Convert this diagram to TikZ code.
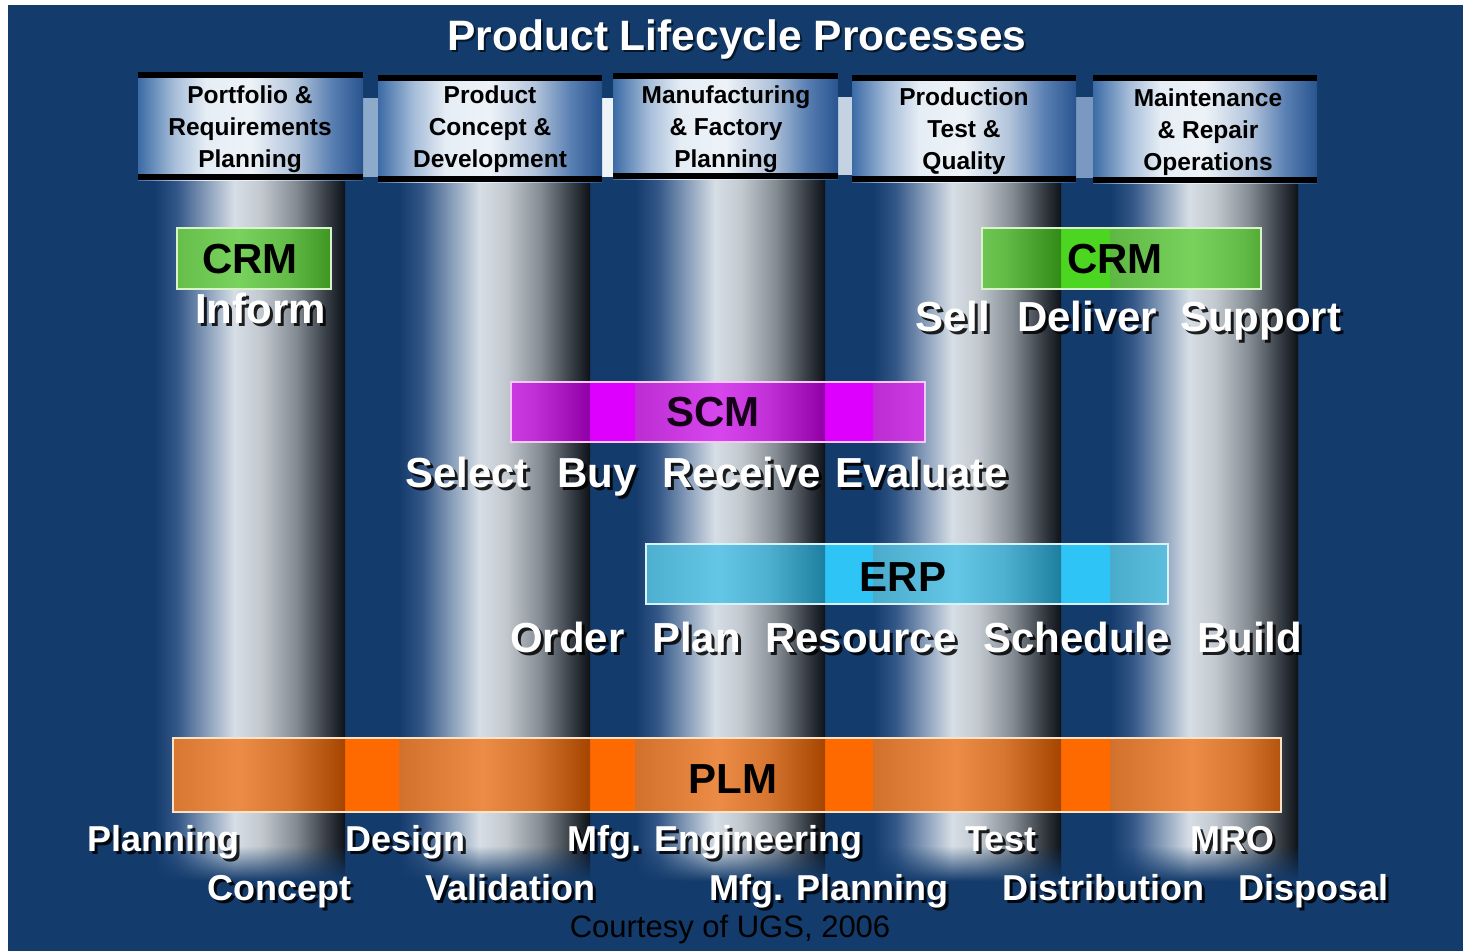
\documentclass[tikz,border=0pt]{standalone}
\usepackage{fontspec}
\setmainfont{Liberation Sans}
\usetikzlibrary{fadings}

\definecolor{pagebg}{HTML}{133B6B}
\definecolor{crmc}{HTML}{4CD622}
\definecolor{scmc}{HTML}{DD00FF}
\definecolor{erpc}{HTML}{2EC4F5}
\definecolor{plmc}{HTML}{FF6A00}
\definecolor{crmedge}{HTML}{D8F4C8}
\definecolor{scmedge}{HTML}{F4C8FA}
\definecolor{erpedge}{HTML}{D8F2FC}
\definecolor{plmedge}{HTML}{FBE3C8}
\definecolor{stripA}{HTML}{8EAACB}
\definecolor{stripB}{HTML}{EEF3F8}
\definecolor{stripC}{HTML}{C4D2E2}
\definecolor{stripD}{HTML}{7A98C0}

% metallic cylinder body: blends into the background on the left, dark rim on the right
\pgfdeclarehorizontalshading{columnshade}{100bp}{%
 rgb(0bp)=(0.075,0.231,0.420);%
 rgb(25bp)=(0.075,0.231,0.420);%
 rgb(31bp)=(0.2,0.34,0.53);%
 rgb(38bp)=(0.5,0.59,0.71);%
 rgb(46bp)=(0.84,0.87,0.9);%
 rgb(53bp)=(0.76,0.785,0.81);%
 rgb(62bp)=(0.52,0.55,0.58);%
 rgb(70bp)=(0.22,0.245,0.275);%
 rgb(75bp)=(0.055,0.07,0.095);%
 rgb(100bp)=(0.055,0.07,0.095)}

% header caps of the cylinders
\pgfdeclarehorizontalshading{headshade}{100bp}{%
 rgb(0bp)=(0.23,0.42,0.65);%
 rgb(25bp)=(0.23,0.42,0.65);%
 rgb(33bp)=(0.65,0.74,0.85);%
 rgb(40bp)=(0.9,0.93,0.96);%
 rgb(50bp)=(0.93,0.95,0.97);%
 rgb(60bp)=(0.7,0.77,0.86);%
 rgb(68bp)=(0.35,0.5,0.7);%
 rgb(75bp)=(0.16,0.33,0.56);%
 rgb(100bp)=(0.16,0.33,0.56)}

% light/dark sheen laid over a coloured band where it crosses a cylinder
\pgfdeclarehorizontalshading{barover}{100bp}{%
 rgb(0bp)=(0.5,0.5,0.5);%
 rgb(25bp)=(0.5,0.5,0.5);%
 rgb(47bp)=(0.8,0.8,0.8);%
 rgb(60bp)=(0.55,0.55,0.55);%
 rgb(75bp)=(0,0,0);%
 rgb(100bp)=(0,0,0)}

\tikzset{
  word/.style={anchor=base west, inner sep=0pt, text=white},
  wordshadow/.style={word, text=black, text opacity=.85, xshift=3pt, yshift=-3pt},
  bartext/.style={anchor=base, inner sep=0pt, text=black,
    font=\bfseries\fontsize{42}{42}\selectfont},
  headline/.style={anchor=base, inner sep=0pt, text=black,
    font=\bfseries\fontsize{24.5}{24.5}\selectfont},
}

% white word with a dark drop shadow: name, x, baseline y, size, text
\newcommand\wlabel[5]{%
  \node[wordshadow, font=\bfseries\fontsize{#4}{#4}\selectfont] at (#2,#3) {#5};
  \node[word, font=\bfseries\fontsize{#4}{#4}\selectfont] (#1) at (#2,#3) {#5};}

% three-line heading on a cylinder cap: prefix, centre x, first baseline, lines
\newcommand\headtext[6]{%
  \node[headline] (#1a) at (#2,#3) {#4};
  \node[headline] (#1b) at (#2,#3+32) {#5};
  \node[headline] (#1c) at (#2,#3+64) {#6};}

% coloured process band: x0, y0, x1, y1, fill, border
\newcommand\procband[6]{%
  \fill[#5] (#1,#2) rectangle (#3,#4);
  \begin{scope}
    \clip (#1,#2) rectangle (#3,#4);
    \foreach \l/\r in {154/345,399/590,635/825,873/1061,1110/1298}
      \shade[shading=barover, opacity=.35] (\l,#2) rectangle (\r,#4);
  \end{scope}
  \draw[#6, line width=2.5pt] (#1,#2) rectangle (#3,#4);}

\begin{document}
\begin{tikzpicture}[x=1pt,y=-1pt]
\useasboundingbox (0,0) rectangle (1463,951);
\fill[white] (0,0) rectangle (1463,951);
\fill[pagebg] (8,5) rectangle (1463,951);

% cylinder bodies, fading out at the bottom
\foreach \l/\r in {154/345,399/590,635/825,873/1061,1110/1298}{
  \shade[shading=columnshade] (\l,176) rectangle (\r,880);
  \fill[pagebg, path fading=north] (\l-2,846) rectangle (\r+1,881);
}

% light strips between the caps
\fill[stripA] (363,98) rectangle (378,177);
\fill[stripB] (602,98) rectangle (613,177);
\fill[stripC] (838,97) rectangle (852,175);
\fill[stripD] (1076,97) rectangle (1093,178);

% cylinder caps with black rims
\foreach \l/\r/\t/\b in {138/363/72/180, 378/602/75/182, 613/838/73/179,
                         852/1076/75/182, 1093/1317/75/183}{
  \shade[shading=headshade] (\l,\t) rectangle (\r,\b);
  \fill[black] (\l,\t) rectangle (\r,\t+6);
  \fill[black] (\l,\b-6) rectangle (\r,\b);
}

\headtext{hA}{250}{103}{Portfolio \&}{Requirements}{Planning}
\headtext{hB}{490}{103}{Product}{Concept \&}{Development}
\headtext{hC}{726}{103}{Manufacturing}{\& Factory}{Planning}
\headtext{hD}{964}{105}{Production}{Test \&}{Quality}
\headtext{hE}{1208}{106}{Maintenance}{\& Repair}{Operations}

% title
\node[anchor=base, inner sep=0pt, text=black, text opacity=.6, xshift=2pt, yshift=-2pt,
  font=\bfseries\fontsize{42.5}{42.5}\selectfont] at (737,50) {Product Lifecycle Processes};
\node[anchor=base, inner sep=0pt, text=white,
  font=\bfseries\fontsize{42.5}{42.5}\selectfont] (title) at (737,50) {Product Lifecycle Processes};

% process bands
\procband{177}{228}{331}{289}{crmc}{crmedge}
\procband{982}{228}{1261}{289}{crmc}{crmedge}
\procband{511}{382}{925}{442}{scmc}{scmedge}
\procband{646}{544}{1168}{604}{erpc}{erpedge}
\procband{173}{738}{1281}{812}{plmc}{plmedge}

\node[bartext] (crmL) at (250,273) {CRM};
\node[bartext] (crmR) at (1115,273) {CRM};
\node[bartext, text=black!90!scmc] (scm) at (713,426) {SCM};
\node[bartext] (erp) at (903,591) {ERP};
\node[bartext] (plm) at (733,793) {PLM};

% activities of each band
\wlabel{inform}{195}{323}{42}{Inform}
\wlabel{sell}{915}{331}{42}{Sell}
\wlabel{deliver}{1017}{331}{42}{Deliver}
\wlabel{support}{1180}{331}{42}{Support}

\wlabel{select}{405}{487}{42}{Select}
\wlabel{buy}{557}{487}{42}{Buy}
\wlabel{receive}{662}{487}{42}{Receive}
\wlabel{evaluate}{835}{487}{42}{Evaluate}

\wlabel{order}{510}{652}{42}{Order}
\wlabel{plan}{652}{652}{42}{Plan}
\wlabel{resource}{765}{652}{42}{Resource}
\wlabel{schedule}{983}{652}{42}{Schedule}
\wlabel{build}{1197}{652}{42}{Build}

\wlabel{planning}{87}{851}{36}{Planning}
\wlabel{design}{345}{851}{36}{Design}
\wlabel{mfgeng}{567}{851}{36}{Mfg. Engineering}
\wlabel{test}{965}{851}{36}{Test}
\wlabel{mro}{1190}{851}{36}{MRO}

\wlabel{concept}{207}{900}{36}{Concept}
\wlabel{validation}{425}{900}{36}{Validation}
\wlabel{mfgplan}{709}{900}{36}{Mfg. Planning}
\wlabel{distribution}{1002}{900}{36}{Distribution}
\wlabel{disposal}{1238}{900}{36}{Disposal}

\node[anchor=base, inner sep=0pt, text=black, font=\fontsize{31}{31}\selectfont]
  (credit) at (730,937) {Courtesy of UGS, 2006};
\end{tikzpicture}
\end{document}
